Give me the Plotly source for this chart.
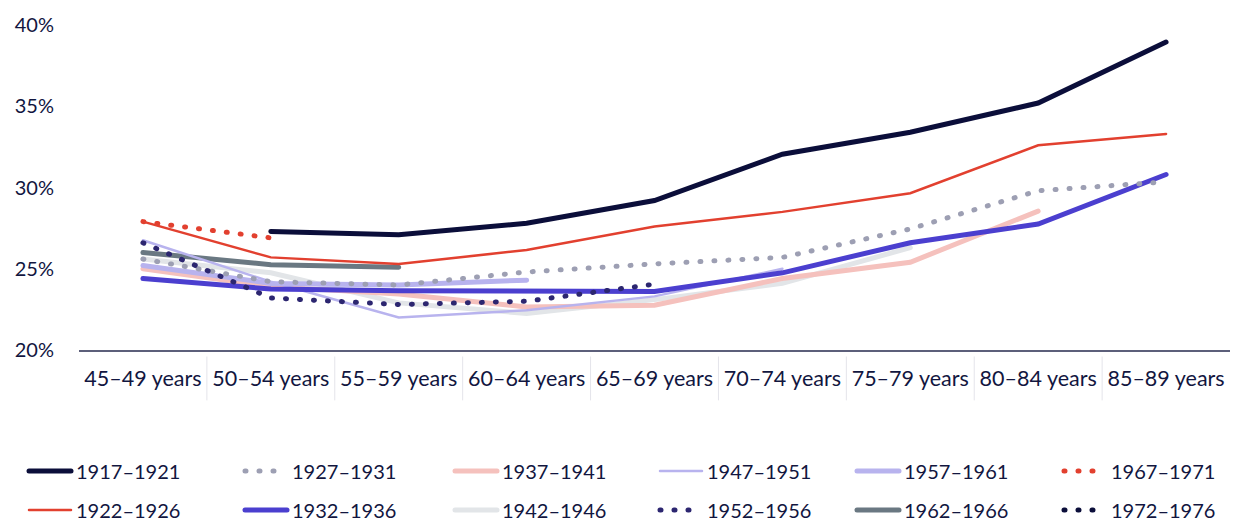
import plotly.graph_objects as go

ages = ["45–49 years", "50–54 years", "55–59 years", "60–64 years", "65–69 years",
        "70–74 years", "75–79 years", "80–84 years", "85–89 years"]

c1917 = [None, 27.3, 27.1, 27.8, 29.2, 32.05, 33.4, 35.2, 38.95]
c1922 = [27.9, 25.7, 25.3, 26.15, 27.6, 28.5, 29.65, 32.6, 33.3]
c1927 = [25.6, 24.2, 24.0, 24.8, 25.3, 25.7, 27.45, 29.8, 30.35]
c1932 = [24.4, 23.75, 23.65, 23.65, 23.6, 24.75, 26.6, 27.75, 30.8]
c1937 = [25.0, 23.9, 23.45, 22.65, 22.75, 24.4, 25.4, 28.55, None]
c1942 = [25.6, 24.75, 22.9, 22.25, 23.1, 24.1, 26.3, None, None]
c1947 = [26.75, 24.2, 22.0, 22.45, 23.3, 25.0, None, None, None]
c1952 = [26.6, 23.2, 22.8, 23.0, 24.05, None, None, None, None]
c1957 = [25.2, 24.1, 24.0, 24.3, None, None, None, None, None]
c1962 = [26.0, 25.25, 25.1, None, None, None, None, None, None]
c1967 = [27.9, 26.9, None, None, None, None, None, None, None]
c1972 = [26.6, None, None, None, None, None, None, None, None]

yticks = [20, 25, 30, 35, 40]
yticklabels = ["20%", "25%", "30%", "35%", "40%"]

NAVY = "#0b0e3a"
RED = "#e2402f"
TEXT = "#12163f"
DOT = "1px,13px"

# (name, values, color, width, dash, legend row, legend column)
series = [
    ("1942–1946", c1942, "#e2e5e8", 5, "solid", 1, 2),
    ("1937–1941", c1937, "#f5c1bd", 5, "solid", 0, 2),
    ("1957–1961", c1957, "#b8b3ee", 5, "solid", 0, 4),
    ("1962–1966", c1962, "#6a7882", 5, "solid", 1, 4),
    ("1947–1951", c1947, "#b8b3ee", 2.5, "solid", 0, 3),
    ("1932–1936", c1932, "#4b3fcf", 5, "solid", 1, 1),
    ("1927–1931", c1927, "#9d9fb3", 5, DOT, 0, 1),
    ("1952–1956", c1952, "#2c2670", 5, DOT, 1, 3),
    ("1972–1976", c1972, NAVY, 5, DOT, 1, 5),
    ("1967–1971", c1967, RED, 5, DOT, 0, 5),
    ("1922–1926", c1922, RED, 2.5, "solid", 1, 0),
    ("1917–1921", c1917, NAVY, 5, "solid", 0, 0),
]

font = dict(family="Lato, 'Open Sans', sans-serif", size=20, color=TEXT)
xfont = dict(family="Lato, 'Open Sans', sans-serif", size=21.5, color=TEXT)

W, H = 1239, 521
ML, MR, MT, MB = 79, 9, 25, 171
PW, PH = W - ML - MR, H - MT - MB

# legend layout (pixel targets for text start and row centre)
text_x = [77, 293, 503, 708, 905, 1112]
row_y = [471, 510]
TEXT_OFFSET = 53

fig = go.Figure()
legends = {}
for k, (name, vals, color, width, dash, row, col) in enumerate(series):
    lname = "legend" if k == 0 else f"legend{k + 1}"
    fig.add_trace(go.Scatter(
        x=ages, y=vals, name=name, mode="lines",
        line=dict(color=color, width=width, dash=dash),
        legend=lname, connectgaps=False,
        hovertemplate="%{x}: %{y:.1f}%<extra>" + name + "</extra>",
    ))
    legends[lname] = dict(
        orientation="h", font=font, bgcolor="rgba(0,0,0,0)",
        xanchor="left", yanchor="middle",
        x=(text_x[col] - TEXT_OFFSET - ML) / PW,
        y=(MT + PH - row_y[row]) / PH,
        itemwidth=42,
    )

shapes = []
for i in range(len(ages) - 1):
    shapes.append(dict(type="line", xref="x", yref="paper",
                       x0=i + 0.5, x1=i + 0.5, y0=-0.02, y1=-0.155,
                       line=dict(color="#e4e4ea", width=1)))

fig.update_layout(
    width=W, height=H,
    margin=dict(l=ML, r=MR, t=MT, b=MB, autoexpand=False),
    paper_bgcolor="white", plot_bgcolor="white",
    font=font,
    showlegend=True,
    xaxis=dict(type="category", categoryorder="array", categoryarray=ages,
               range=[-0.5, 8.5], showgrid=False, zeroline=False,
               showline=True, linecolor="#5c5f7a", linewidth=2,
               ticks="", ticklabelstandoff=8, tickfont=xfont),
    yaxis=dict(range=[20, 40], tickvals=yticks, ticktext=yticklabels,
               showgrid=False, zeroline=False, showline=False, ticks="",
               ticklabelstandoff=24, tickfont=font),
    shapes=shapes,
    **legends,
)

post = (
    "document.body.style.margin='0px';"
    "document.body.style.overflow='hidden';"
    "var st=document.createElement('style');"
    "st.textContent='path.js-line{stroke-linecap:round;}';"
    "document.head.appendChild(st);"
)

fig.write_html("out.html", config={"displayModeBar": False}, post_script=post)
